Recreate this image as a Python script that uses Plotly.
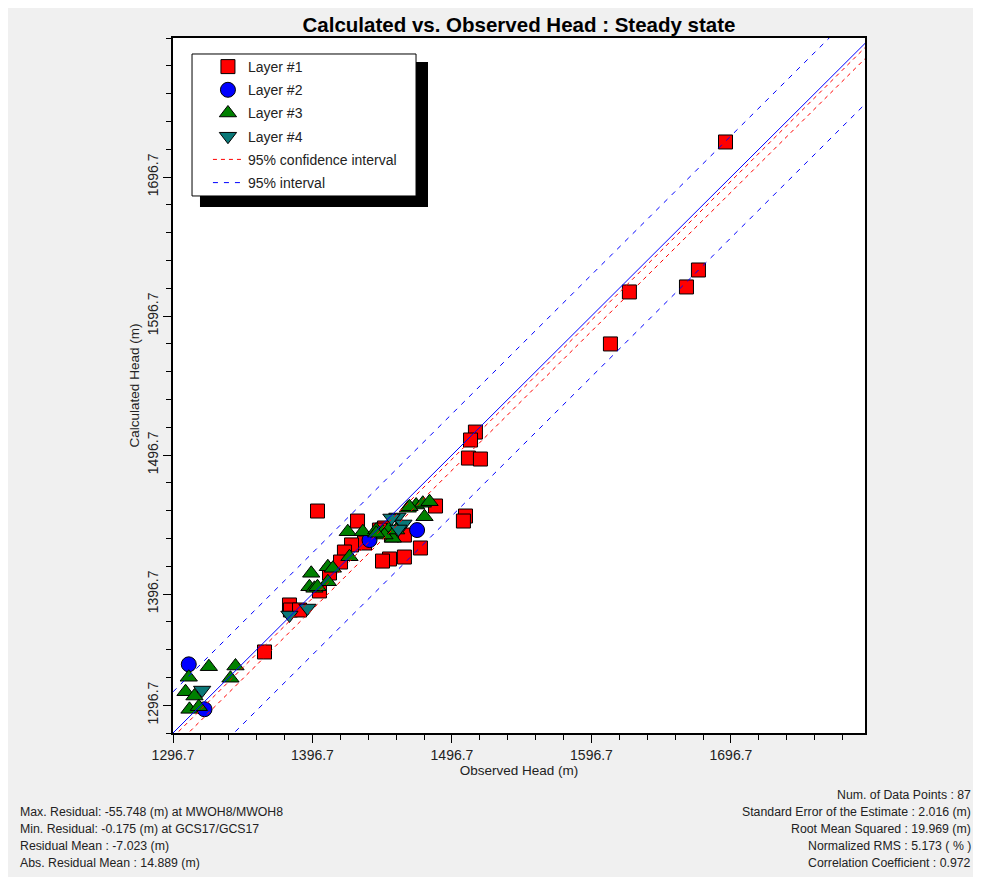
import plotly.graph_objects as go

# ---------------- data ----------------
layer1_obs = [1692.8, 1673.4, 1664.8, 1623.9, 1610.3, 1513.5, 1510.0, 1508.5, 1517.1, 1506.4,
              1504.9, 1484.9, 1474.1, 1462.6, 1451.9, 1446.9, 1400.3, 1429.0, 1448.3, 1462.6,
              1453.3, 1434.0, 1424.7, 1419.6, 1416.8, 1408.9, 1401.7, 1380.2, 1380.9, 1387.4,
              1362.3, 1444.7]
layer1_calc = [1721.9, 1629.8, 1617.6, 1614.0, 1576.6, 1513.2, 1507.5, 1494.5, 1493.8, 1452.8,
               1449.2, 1460.0, 1429.8, 1423.3, 1421.9, 1420.4, 1456.4, 1449.2, 1444.2, 1439.1,
               1439.1, 1433.4, 1432.0, 1426.9, 1419.7, 1411.8, 1398.9, 1388.8, 1385.2, 1385.2,
               1355.0, 1442.7]

layer2_obs = [1308.0, 1319.3, 1437.6, 1471.7]
layer2_calc = [1346.1, 1313.8, 1435.5, 1442.7]

layer3_obs = [1308.0, 1322.4, 1305.7, 1312.1, 1308.5, 1315.2, 1341.5, 1337.9, 1395.8, 1394.5,
              1398.1, 1407.7, 1407.7, 1411.3, 1422.0, 1423.2, 1432.8, 1442.4, 1447.1, 1451.9,
              1465.0, 1471.0, 1475.8, 1477.0, 1466.2, 1480.6, 1454.3, 1448.3, 1442.4, 1456.7,
              1400.3]
layer3_calc = [1336.8, 1344.4, 1326.4, 1323.3, 1313.7, 1315.6, 1344.9, 1336.1, 1411.6, 1401.9,
               1400.8, 1405.5, 1416.3, 1415.2, 1441.5, 1423.5, 1441.5, 1442.7, 1441.5, 1444.0,
               1458.4, 1460.7, 1462.0, 1452.3, 1459.5, 1463.1, 1436.8, 1439.1, 1440.4, 1442.7,
               1401.9]

layer4_obs = [1317.6, 1380.2, 1393.1, 1457.6, 1461.9, 1458.3, 1453.3]
layer4_calc = [1327.6, 1381.6, 1386.6, 1452.1, 1447.1, 1443.5, 1451.4]

# reference / interval lines: calculated = observed + offset
line_extent = [1296.7, 1800.0]
conf_offsets = [-3.0, -11.0]       # 95% confidence interval
pred_offsets = [29.6, -43.7]       # 95% interval

x_tickvals = [1296.7, 1396.7, 1496.7, 1596.7, 1696.7]
x_ticktext = ["1296.7", "1396.7", "1496.7", "1596.7", "1696.7"]
y_tickvals = [1316.7, 1396.7, 1496.7, 1596.7, 1696.7]
y_ticktext = ["1296.7", "1396.7", "1496.7", "1596.7", "1696.7"]

stats_left = ["Max. Residual: -55.748 (m) at MWOH8/MWOH8",
              "Min. Residual: -0.175 (m) at GCS17/GCS17",
              "Residual Mean : -7.023 (m)",
              "Abs. Residual Mean : 14.889 (m)"]
stats_right = ["Num. of Data Points : 87",
               "Standard Error of the Estimate : 2.016 (m)",
               "Root Mean Squared : 19.969 (m)",
               "Normalized RMS : 5.173 ( % )",
               "Correlation Coefficient : 0.972"]

# ---------------- figure ----------------
FONT = "Liberation Sans, Arial, sans-serif"
TXT = "#222222"
fig = go.Figure()

def add_layer(x, y, name, symbol, color, size):
    fig.add_trace(go.Scatter(
        x=x, y=y, mode="markers", name=name, legendgroup=name,
        marker=dict(symbol=symbol, color=color, size=size,
                    line=dict(color="black", width=1))))

add_layer(layer1_obs, layer1_calc, "Layer #1", "square", "#ff0000", 14)
add_layer(layer2_obs, layer2_calc, "Layer #2", "circle", "#0000ff", 15)
add_layer(layer3_obs, layer3_calc, "Layer #3", "triangle-up", "#008000", 15)
add_layer(layer4_obs, layer4_calc, "Layer #4", "triangle-down", "#0a7878", 15)

# 1:1 line
fig.add_trace(go.Scatter(x=line_extent, y=line_extent, mode="lines",
                         line=dict(color="#0000ff", width=1), showlegend=False))
for i, off in enumerate(conf_offsets):
    fig.add_trace(go.Scatter(
        x=line_extent, y=[v + off for v in line_extent], mode="lines",
        name="95% confidence interval", legendgroup="ci", showlegend=(i == 0),
        line=dict(color="#ff0000", width=1, dash="4px,4px")))
for i, off in enumerate(pred_offsets):
    fig.add_trace(go.Scatter(
        x=line_extent, y=[v + off for v in line_extent], mode="lines",
        name="95% interval", legendgroup="pi", showlegend=(i == 0),
        line=dict(color="#0000ff", width=1, dash="5px,6px")))

axis_common = dict(
    showgrid=False, zeroline=False, showline=True, linecolor="black", linewidth=1.5,
    mirror=True, ticks="outside", ticklen=8, tickcolor="black", tickwidth=1,
    tickfont=dict(family=FONT, size=14, color=TXT),
    minor=dict(dtick=20, tick0=1296.7, ticks="outside", ticklen=5, tickcolor="black"),
)

fig.update_xaxes(range=[1296.7, 1792.8], tickmode="array", tickvals=x_tickvals,
                 ticktext=x_ticktext,
                 title=dict(text="Observed Head (m)", font=dict(family=FONT, size=13.5, color=TXT),
                            standoff=4),
                 **axis_common)
fig.update_yaxes(range=[1296.7, 1796.7], tickmode="array", tickvals=y_tickvals,
                 ticktext=y_ticktext, tickangle=-90,
                 title=dict(text="Calculated Head (m)", font=dict(family=FONT, size=13.5, color=TXT),
                            standoff=2),
                 **axis_common)

# legend box with shadow
fig.add_shape(type="rect", xref="paper", yref="paper", x0=0.039, x1=0.3685, y0=0.7568, y1=0.9655,
              fillcolor="black", line=dict(width=0), layer="above")
fig.add_shape(type="rect", xref="paper", yref="paper", x0=0.0275, x1=0.3512, y0=0.7727, y1=0.977,
              fillcolor="white", line=dict(color="black", width=1), layer="above")

for i, t in enumerate(stats_left):
    fig.add_annotation(text=t, xref="paper", yref="paper", x=-0.224, y=-0.1137 - 0.02446 * i,
                       xanchor="left", yanchor="middle", showarrow=False,
                       font=dict(family=FONT, size=12.3, color=TXT))
for i, t in enumerate(stats_right):
    fig.add_annotation(text=t, xref="paper", yref="paper", x=1.156, y=-0.0892 - 0.02446 * i,
                       xanchor="right", yanchor="middle", showarrow=False,
                       font=dict(family=FONT, size=12.3, color=TXT))

# page body has an 8 px margin, so the figure is 8 px smaller on each axis
fig.update_layout(
    width=973, height=869,
    margin=dict(l=165, r=116, t=30, b=144),
    paper_bgcolor="#f0f0f0", plot_bgcolor="white",
    title=dict(text="<b>Calculated vs. Observed Head : Steady state</b>",
               font=dict(family=FONT, size=20.5, color="black"),
               x=(511) / 973, xanchor="center", y=1 - 17 / 869, yanchor="middle"),
    legend=dict(x=0.0505, y=0.9813, xanchor="left", yanchor="top", bgcolor="rgba(0,0,0,0)",
                borderwidth=0, traceorder="grouped", tracegroupgap=2,
                font=dict(family=FONT, size=14, color=TXT)),
    showlegend=True,
)

fig.write_html("out.html")
